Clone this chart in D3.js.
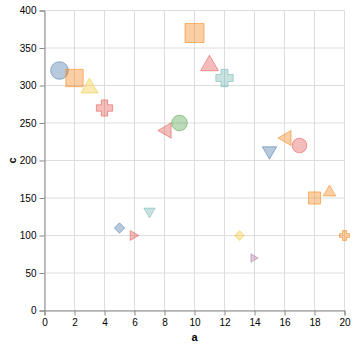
<!DOCTYPE html>
<html>
<head>
<meta charset="utf-8">
<script src="https://cdn.jsdelivr.net/npm/d3@7"></script>
<style>
  html, body { margin: 0; padding: 0; background: #fff; }
  svg { display: block; }
  text { font-family: Arial, "Liberation Sans", sans-serif; }
</style>
</head>
<body>
<svg id="chart" width="357" height="347"></svg>
<script>
// ---- data ----
const aValues = [1, 2, 3, 4, 5, 6, 7, 8, 9, 10, 11, 12, 13, 14, 15, 16, 17, 18, 19, 20];
const cValues = [320, 310, 300, 270, 110, 100, 130, 240, 250, 370, 330, 310, 100, 70, 210, 230, 220, 150, 160, 100];
const shapeNames = ["circle", "square", "triangle-up", "cross", "diamond", "triangle-right", "triangle-down", "triangle-left",
                    "circle", "square", "triangle-up", "cross", "diamond", "triangle-right", "triangle-down", "triangle-left",
                    "circle", "square", "triangle-up", "cross"];
const colorGroups = ["blue", "orange", "yellow", "red", "blue", "red", "teal", "red", "green", "orange",
                     "red", "teal", "yellow", "purple", "blue", "orange", "red", "orange", "orange", "orange"];
const xTicks = [0, 2, 4, 6, 8, 10, 12, 14, 16, 18, 20];
const yTicks = [0, 50, 100, 150, 200, 250, 300, 350, 400];

const data = aValues.map((a, i) => ({ a, c: cValues[i], shape: shapeNames[i], group: colorGroups[i] }));

// ---- layout ----
const margin = { left: 44.5, top: 10.5 };
const width = 300, height = 300;

const svg = d3.select("#chart");
const g = svg.append("g").attr("transform", `translate(${margin.left},${margin.top})`);

const x = d3.scaleLinear().domain([0, 20]).range([0, width]);
const y = d3.scaleLinear().domain([0, 400]).range([height, 0]);
const size = d3.scaleLinear().domain([0, 370]).range([0, 361]);
const color = d3.scaleOrdinal()
  .domain(["blue", "orange", "red", "teal", "green", "yellow", "purple"])
  .range(["#4c78a8", "#f58518", "#e45756", "#72b7b2", "#54a24b", "#eeca3b", "#b279a2"]);

// Vega-style symbol shapes
const HS3 = Math.sqrt(3) / 2;
const symbols = {
  "circle": { draw(ctx, s) { const r = Math.sqrt(s) / 2; ctx.moveTo(r, 0); ctx.arc(0, 0, r, 0, 2 * Math.PI); } },
  "square": { draw(ctx, s) { const w = Math.sqrt(s), r = w / 2; ctx.rect(-r, -r, w, w); } },
  "diamond": { draw(ctx, s) { const r = Math.sqrt(s) / 2; ctx.moveTo(-r, 0); ctx.lineTo(0, -r); ctx.lineTo(r, 0); ctx.lineTo(0, r); ctx.closePath(); } },
  "cross": { draw(ctx, s) {
    const r = Math.sqrt(s) / 2, q = r / 2.5;
    ctx.moveTo(-r, -q); ctx.lineTo(-r, q); ctx.lineTo(-q, q); ctx.lineTo(-q, r); ctx.lineTo(q, r); ctx.lineTo(q, q);
    ctx.lineTo(r, q); ctx.lineTo(r, -q); ctx.lineTo(q, -q); ctx.lineTo(q, -r); ctx.lineTo(-q, -r); ctx.lineTo(-q, -q); ctx.closePath();
  } },
  "triangle-up": { draw(ctx, s) { const r = Math.sqrt(s) / 2, h = HS3 * r; ctx.moveTo(0, -h); ctx.lineTo(-r, h); ctx.lineTo(r, h); ctx.closePath(); } },
  "triangle-down": { draw(ctx, s) { const r = Math.sqrt(s) / 2, h = HS3 * r; ctx.moveTo(0, h); ctx.lineTo(-r, -h); ctx.lineTo(r, -h); ctx.closePath(); } },
  "triangle-right": { draw(ctx, s) { const r = Math.sqrt(s) / 2, h = HS3 * r; ctx.moveTo(h, 0); ctx.lineTo(-h, -r); ctx.lineTo(-h, r); ctx.closePath(); } },
  "triangle-left": { draw(ctx, s) { const r = Math.sqrt(s) / 2, h = HS3 * r; ctx.moveTo(-h, 0); ctx.lineTo(h, -r); ctx.lineTo(h, r); ctx.closePath(); } }
};

// ---- grid ----
g.append("g").selectAll("line").data(xTicks).join("line")
  .attr("x1", d => x(d)).attr("x2", d => x(d)).attr("y1", 0).attr("y2", height)
  .attr("stroke", "#ddd").attr("stroke-width", 1);
g.append("g").selectAll("line").data(yTicks).join("line")
  .attr("y1", d => y(d)).attr("y2", d => y(d)).attr("x1", 0).attr("x2", width)
  .attr("stroke", "#ddd").attr("stroke-width", 1);

// ---- axes ----
const xAxis = g.append("g").attr("transform", `translate(0,${height})`)
  .call(d3.axisBottom(x).tickValues(xTicks).tickSize(5).tickPadding(3).tickFormat(d3.format("d")));
const yAxis = g.append("g")
  .call(d3.axisLeft(y).tickValues(yTicks).tickSize(5).tickPadding(3).tickFormat(d3.format("d")));
[xAxis, yAxis].forEach(ax => {
  ax.select(".domain").attr("stroke", "#888");
  ax.selectAll(".tick line").attr("stroke", "#888");
  ax.selectAll(".tick text").attr("fill", "#000").style("font-size", "10px").style("font-family", "Arial, 'Liberation Sans', sans-serif");
});

// titles
svg.append("text").attr("x", margin.left + width / 2).attr("y", 341)
  .attr("text-anchor", "middle").style("font-size", "11px").style("font-weight", "bold").text("a");
svg.append("text").attr("transform", `translate(16,${margin.top + height / 2}) rotate(-90)`)
  .attr("text-anchor", "middle").style("font-size", "11px").style("font-weight", "bold").text("c");

// ---- points ----
g.append("g").selectAll("path").data(data).join("path")
  .attr("transform", d => `translate(${x(d.a)},${y(d.c)})`)
  .attr("d", d => d3.symbol().type(symbols[d.shape]).size(size(d.c))())
  .attr("fill", d => color(d.group))
  .attr("fill-opacity", 0.4)
  .attr("stroke", d => color(d.group))
  .attr("stroke-opacity", 0.55)
  .attr("stroke-width", 1);
</script>
</body>
</html>
